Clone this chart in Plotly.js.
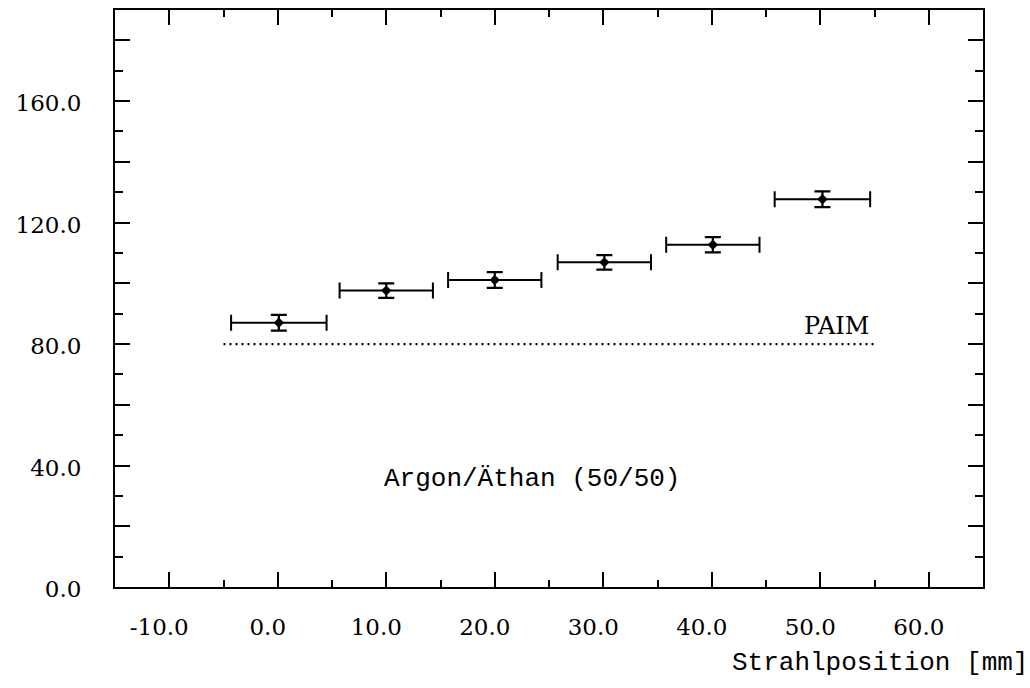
<!DOCTYPE html>
<html>
<head>
<meta charset="utf-8">
<script src="https://cdn.plot.ly/plotly-3.0.1.min.js"></script>
<style>html,body{margin:0;padding:0;background:#fff;}#plot{width:1030px;height:688px;}</style>
</head>
<body>
<div id="plot"></div>
<script>
// Data
const positions = [0.1, 10.0, 20.0, 30.1, 40.1, 50.2];
const values = [87.0, 97.6, 101.1, 106.9, 112.7, 127.7];
const valueErrors = [2.6, 2.4, 2.6, 2.4, 2.5, 2.6];
const positionErrors = [4.4, 4.3, 4.3, 4.3, 4.3, 4.4];
const paimX = [-5, 55];
const paimY = [80, 80];
const xTickVals = [-10, 0, 10, 20, 30, 40, 50, 60];
const xTickText = ['-10.0', '0.0', '10.0', '20.0', '30.0', '40.0', '50.0', '60.0'];
const yTickVals = [0, 20, 40, 60, 80, 100, 120, 140, 160, 180];
const yTickText = ['0.0', '', '40.0', '', '80.0', '', '120.0', '', '160.0', ''];

const serif = 'DejaVu Serif, serif';
const mono = 'Liberation Mono, monospace';

const traces = [
  {
    x: paimX, y: paimY, mode: 'lines', type: 'scatter',
    line: {color: '#000', width: 2.2, dash: '2px,4px'},
    hoverinfo: 'skip', showlegend: false
  },
  {
    x: positions, y: values, mode: 'markers', type: 'scatter',
    marker: {symbol: 'diamond', size: 8, color: '#000'},
    error_x: {type: 'data', array: positionErrors, visible: true, color: '#000', thickness: 2, width: 8},
    error_y: {type: 'data', array: valueErrors, visible: true, color: '#000', thickness: 2.2, width: 8},
    showlegend: false
  }
];

const axisCommon = {
  showgrid: false, zeroline: false, showline: true, linecolor: '#000', linewidth: 2,
  mirror: 'allticks', ticks: 'inside', ticklen: 15, tickwidth: 2, tickcolor: '#000',
  tickfont: {family: serif, size: 23, color: '#000'}
};

const layout = {
  width: 1030, height: 688,
  margin: {l: 115, r: 47, t: 10, b: 101},
  paper_bgcolor: '#fff', plot_bgcolor: '#fff',
  xaxis: Object.assign({}, axisCommon, {
    range: [-15, 65], tickmode: 'array', tickvals: xTickVals, ticktext: xTickText,
    ticklabelshift: -10, ticklabelstandoff: 18,
    minor: {dtick: 5, tick0: 0, ticks: 'inside', ticklen: 7, tickwidth: 2, tickcolor: '#000', showgrid: false}
  }),
  yaxis: Object.assign({}, axisCommon, {
    range: [0, 190], tickmode: 'array', tickvals: yTickVals, ticktext: yTickText,
    ticklabelstandoff: 27, ticklabelshift: 2,
    minor: {dtick: 10, tick0: 0, ticks: 'inside', ticklen: 8, tickwidth: 2, tickcolor: '#000', showgrid: false}
  }),
  annotations: [
    {text: 'Strahlposition [mm]', xref: 'paper', yref: 'paper', x: 1.054, y: -0.132,
     xanchor: 'right', yanchor: 'middle', showarrow: false,
     font: {family: mono, size: 26, color: '#000'}},
    {text: 'Argon/Äthan (50/50)', xref: 'x', yref: 'y', x: 23.4, y: 35.5,
     xanchor: 'center', yanchor: 'middle', showarrow: false,
     font: {family: mono, size: 26, color: '#000'}},
    {text: 'PAIM', xref: 'x', yref: 'y', x: 54.7, y: 85.8,
     xanchor: 'right', yanchor: 'middle', showarrow: false,
     font: {family: serif, size: 24, color: '#000'}}
  ]
};

Plotly.newPlot('plot', traces, layout, {displayModeBar: false, staticPlot: true});
</script>
</body>
</html>
